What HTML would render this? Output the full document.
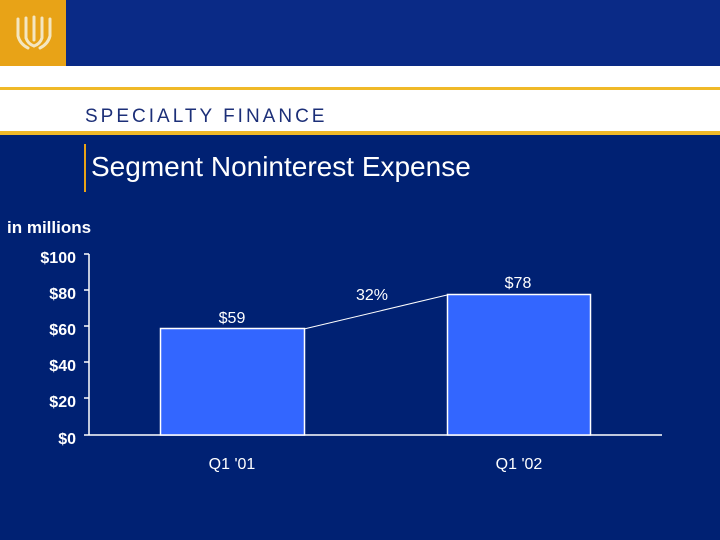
<!DOCTYPE html>
<html><head><style>
body{margin:0;width:720px;height:540px;background:#002173;position:relative;overflow:hidden;font-family:"Liberation Sans",sans-serif}
div{position:absolute}
</style></head><body>
<div style="left:0;top:0;width:720px;height:66px;background:#0a2a86"></div>
<div style="left:0;top:0;width:66px;height:66px;background:#e8a317"></div>
<svg style="position:absolute;left:14px;top:14px" width="40" height="40" viewBox="0 0 40 40">
<g fill="none" stroke="#f4e6c0" stroke-width="3" stroke-linecap="round">
<path d="M4 5 V22 Q6 30 14 34"/><path d="M12 4 V24 Q14 30 20 32"/><path d="M20 3 V26"/><path d="M28 4 V24 Q26 30 20 32"/><path d="M36 5 V22 Q34 30 26 34"/>
</g></svg>
<div style="left:0;top:66px;width:720px;height:68px;background:#fff"></div>
<div style="left:0;top:87px;width:720px;height:3px;background:#f0b928"></div>
<div style="left:0;top:131px;width:720px;height:4px;background:#f0b928"></div>
<div style="left:85px;top:106px;font-size:19px;letter-spacing:3px;color:#1c2f78">SPECIALTY FINANCE</div>
<div style="left:84px;top:144px;width:2px;height:48px;background:#e8a317"></div>
<div style="left:91px;top:151px;font-size:28px;color:#fff">Segment Noninterest Expense</div>
<div style="left:7px;top:218px;font-size:17px;font-weight:bold;color:#fff">in millions</div>
<svg style="position:absolute;left:0;top:0" width="720" height="540">
<g fill="#fff" font-size="16" font-weight="bold" text-anchor="end" font-family="Liberation Sans">
<text x="76" y="263">$100</text><text x="76" y="299">$80</text><text x="76" y="335">$60</text><text x="76" y="371">$40</text><text x="76" y="407">$20</text><text x="76" y="444">$0</text>
</g>
<g stroke="#fff" stroke-width="1.5">
<line x1="89" y1="254" x2="89" y2="435"/>
<line x1="84" y1="435" x2="662" y2="435"/>
<line x1="84" y1="254" x2="89" y2="254"/><line x1="84" y1="290" x2="89" y2="290"/><line x1="84" y1="326" x2="89" y2="326"/><line x1="84" y1="362" x2="89" y2="362"/><line x1="84" y1="398" x2="89" y2="398"/>
</g>
<rect x="160.5" y="328.5" width="144" height="106.5" fill="#3366ff" stroke="#fff" stroke-width="1.5"/>
<rect x="447.5" y="294.5" width="143" height="140.5" fill="#3366ff" stroke="#fff" stroke-width="1.5"/>
<line x1="304" y1="329" x2="447" y2="295" stroke="#fff" stroke-width="1"/>
<g fill="#fff" font-size="16" text-anchor="middle" font-family="Liberation Sans">
<text x="232" y="323">$59</text><text x="518" y="288">$78</text><text x="372" y="300">32%</text>
<text x="232" y="469">Q1 '01</text><text x="519" y="469">Q1 '02</text>
</g>
</svg>
</body></html>
